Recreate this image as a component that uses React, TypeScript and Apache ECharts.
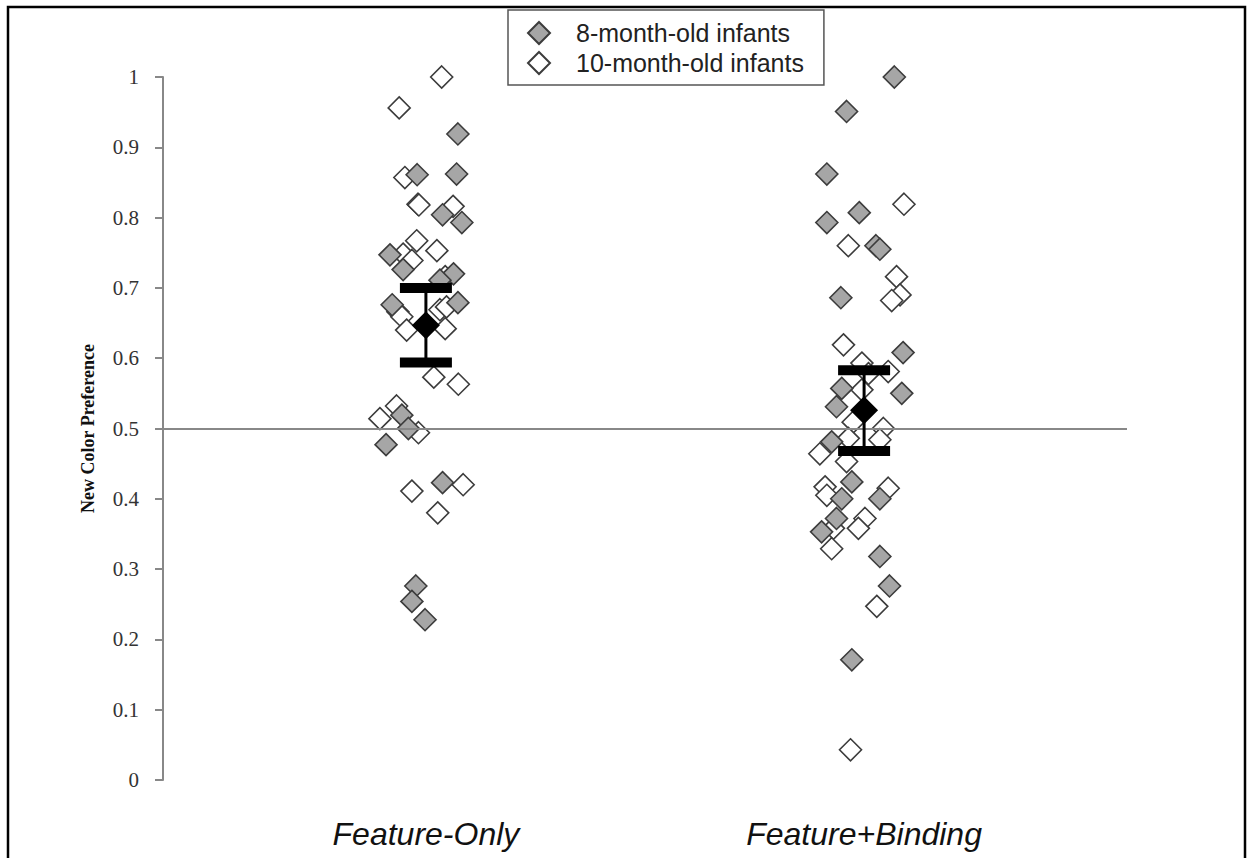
import React, { useEffect, useRef } from "react";
import * as echarts from "echarts";

const categories = ["Feature-Only", "Feature+Binding"];
const seriesNames = ["8-month-old infants", "10-month-old infants"];

// [x position (category 1 or 2 with jitter), new color preference]
const eightMonthFeatureOnly: [number, number][] = [
  [1.073, 0.919], [0.98, 0.861], [1.07, 0.862], [1.038, 0.804], [1.082, 0.793],
  [0.918, 0.747], [0.948, 0.726], [1.063, 0.72], [1.032, 0.711], [0.923, 0.676],
  [1.073, 0.679], [0.945, 0.519], [0.96, 0.5], [0.909, 0.477], [1.038, 0.423],
  [0.977, 0.276], [0.968, 0.254], [0.998, 0.228],
];
const eightMonthFeatureBinding: [number, number][] = [
  [2.069, 1.0], [1.96, 0.951], [1.915, 0.862], [1.989, 0.807], [1.915, 0.793],
  [2.027, 0.76], [2.036, 0.755], [1.947, 0.686], [2.089, 0.608], [1.949, 0.557],
  [2.086, 0.55], [1.937, 0.531], [1.926, 0.481], [1.972, 0.424], [1.949, 0.4],
  [2.036, 0.4], [1.937, 0.372], [1.903, 0.353], [2.036, 0.318], [2.058, 0.276],
  [1.972, 0.171],
];
const tenMonthFeatureOnly: [number, number][] = [
  [1.036, 1.0], [0.939, 0.956], [0.952, 0.857], [0.982, 0.819], [0.984, 0.818],
  [1.062, 0.816], [0.979, 0.767], [1.025, 0.753], [0.948, 0.748], [0.968, 0.739],
  [1.044, 0.716], [0.936, 0.666], [0.945, 0.659], [1.032, 0.669], [1.047, 0.673],
  [1.044, 0.642], [0.956, 0.64], [1.018, 0.573], [1.074, 0.563], [0.933, 0.532],
  [0.895, 0.514], [0.983, 0.494], [0.968, 0.411], [1.085, 0.42], [1.027, 0.38],
];
const tenMonthFeatureBinding: [number, number][] = [
  [2.091, 0.819], [1.964, 0.76], [2.074, 0.716], [2.082, 0.69], [2.063, 0.682],
  [1.953, 0.619], [1.995, 0.593], [2.055, 0.581], [2.01, 0.578], [1.995, 0.555],
  [1.975, 0.509], [2.044, 0.5], [1.964, 0.486], [2.036, 0.484], [1.899, 0.464],
  [1.96, 0.453], [1.911, 0.417], [1.915, 0.405], [2.055, 0.415], [2.002, 0.372],
  [1.93, 0.358], [1.987, 0.358], [1.926, 0.329], [2.029, 0.247], [1.969, 0.043],
];

const groupMeans = [0.647, 0.526];
const errorLow = [0.594, 0.468];
const errorHigh = [0.7, 0.583];
const chanceLevel = 0.5;

export default function App() {
  const ref = useRef<HTMLDivElement>(null);

  useEffect(() => {
    if (!ref.current) return;
    const chart = echarts.init(ref.current, null, { renderer: "svg" });

    const meanData = groupMeans.map((m, i) => [i + 1, m]);
    const errData = groupMeans.map((_, i) => [i + 1, errorLow[i], errorHigh[i]]);

    const markerBorder = "#3c3c3c";

    chart.setOption({
      animation: false,
      backgroundColor: "#fff",
      grid: { left: 163, right: 123, top: 77, bottom: 78, containLabel: false },
      legend: {
        data: [
          { name: seriesNames[0], icon: "diamond" },
          { name: seriesNames[1], icon: "diamond" },
        ],
        orient: "vertical",
        left: 508,
        top: 10,
        itemWidth: 22,
        itemHeight: 22,
        itemGap: 4,
        padding: [10, 20, 9, 19],
        borderColor: "#555",
        borderWidth: 1.5,
        textStyle: {
          fontSize: 25,
          fontFamily: "'Liberation Sans', Arial, Helvetica, sans-serif",
          color: "#222",
          padding: [0, 0, 0, 21],
          lineHeight: 26,
        },
      },
      xAxis: {
        type: "value",
        min: 0.4,
        max: 2.6,
        axisLine: { show: false },
        axisTick: { show: false },
        splitLine: { show: false },
        axisLabel: {
          customValues: [1, 2],
          formatter: (v: number) => categories[Math.round(v) - 1] ?? "",
          margin: 38,
          fontSize: 32,
          fontStyle: "italic",
          fontFamily: "'Liberation Sans', Arial, Helvetica, sans-serif",
          color: "#111",
        },
      },
      yAxis: {
        type: "value",
        min: 0,
        max: 1,
        interval: 0.1,
        name: "New Color Preference",
        nameLocation: "middle",
        nameGap: 66,
        nameTextStyle: {
          fontSize: 18,
          fontWeight: "bold",
          fontFamily: "'Liberation Serif', 'Times New Roman', serif",
          color: "#111",
        },
        axisLine: { show: true, lineStyle: { color: "#888", width: 2 } },
        axisTick: { show: true, length: 8, lineStyle: { color: "#888", width: 2 } },
        splitLine: { show: false },
        axisLabel: {
          margin: 24,
          fontSize: 21,
          fontFamily: "'Liberation Serif', 'Times New Roman', serif",
          color: "#333",
          formatter: (v: number) => String(Number(v.toFixed(1))),
        },
      },
      series: [
        {
          name: seriesNames[1],
          type: "scatter",
          symbol: "diamond",
          symbolSize: 22,
          z: 2,
          itemStyle: { color: "#ffffff", borderColor: markerBorder, borderWidth: 1.6, opacity: 1 },
          data: [...tenMonthFeatureOnly, ...tenMonthFeatureBinding],
          markLine: {
            silent: true,
            symbol: "none",
            label: { show: false },
            lineStyle: { color: "#888", width: 2, type: "solid" },
            data: [{ yAxis: chanceLevel }],
          },
        },
        {
          name: seriesNames[0],
          type: "scatter",
          symbol: "diamond",
          symbolSize: 22,
          z: 3,
          itemStyle: { color: "#a6a6a6", borderColor: markerBorder, borderWidth: 1.6, opacity: 1 },
          data: [...eightMonthFeatureOnly, ...eightMonthFeatureBinding],
        },
        {
          name: "error",
          type: "custom",
          z: 5,
          data: errData,
          encode: { x: 0, y: [1, 2] },
          renderItem: (_params: any, api: any) => {
            const x = api.value(0);
            const lo = api.coord([x, api.value(1)]);
            const hi = api.coord([x, api.value(2)]);
            const halfW = 26;
            const capH = 10;
            return {
              type: "group",
              children: [
                {
                  type: "line",
                  shape: { x1: lo[0], y1: lo[1], x2: hi[0], y2: hi[1] },
                  style: { stroke: "#000", lineWidth: 3 },
                },
                {
                  type: "rect",
                  shape: { x: hi[0] - halfW, y: hi[1] - capH / 2, width: halfW * 2, height: capH },
                  style: { fill: "#000" },
                },
                {
                  type: "rect",
                  shape: { x: lo[0] - halfW, y: lo[1] - capH / 2, width: halfW * 2, height: capH },
                  style: { fill: "#000" },
                },
              ],
            };
          },
        },
        {
          name: "mean",
          type: "scatter",
          symbol: "diamond",
          symbolSize: 28,
          z: 6,
          itemStyle: { color: "#000", opacity: 1 },
          data: meanData,
        },
      ],
      graphic: [
        {
          type: "rect",
          silent: true,
          shape: { x: 8, y: 7, width: 1237, height: 900 },
          style: { fill: "none", stroke: "#000", lineWidth: 2.5 },
        },
      ],
    });

    return () => chart.dispose();
  }, []);

  return (
    <div
      ref={ref}
      style={{ position: "fixed", left: 0, top: 0, width: 1250, height: 858 }}
    />
  );
}
